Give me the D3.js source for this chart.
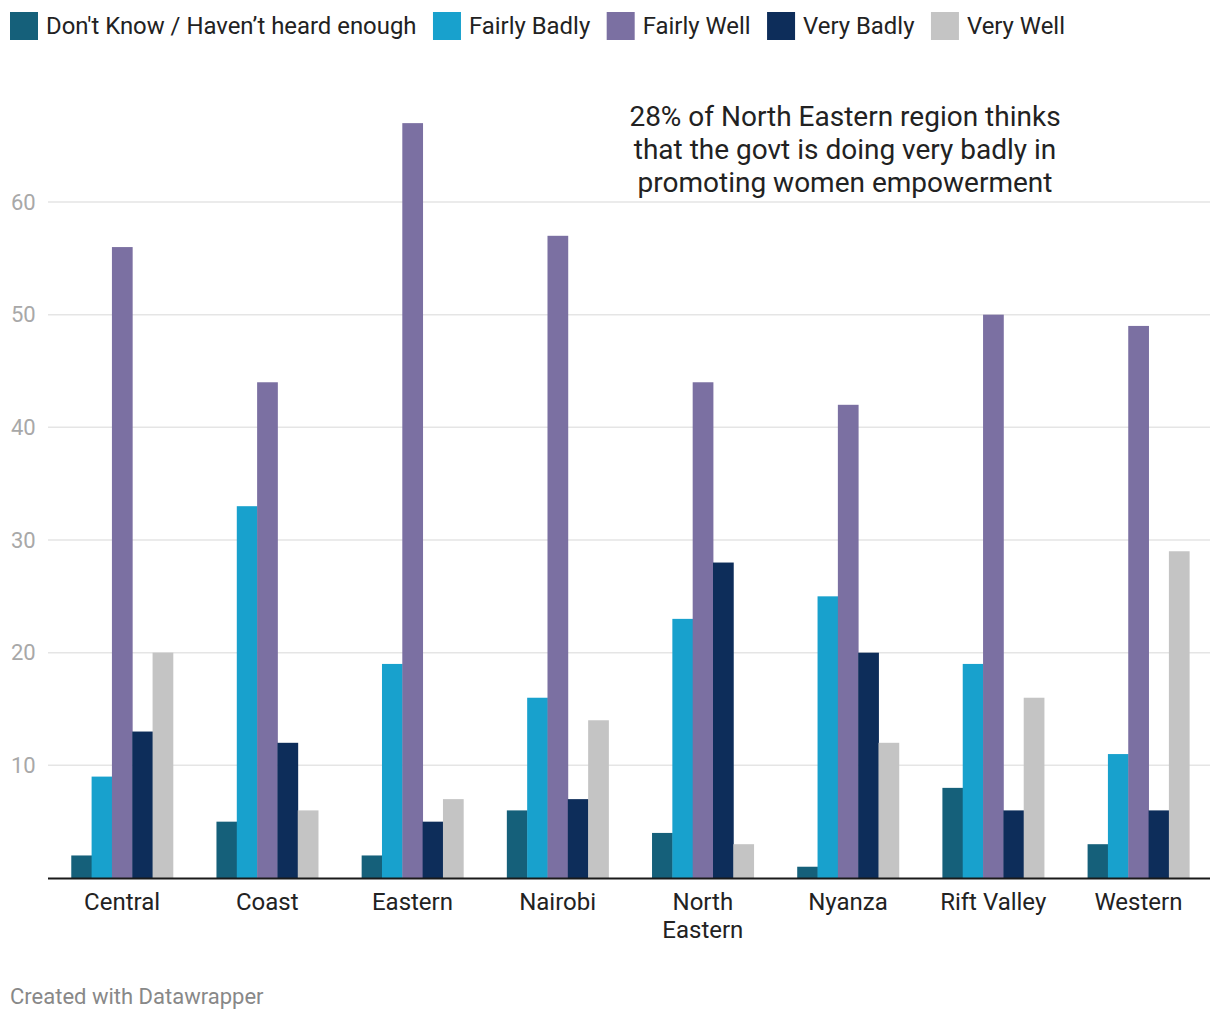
<!DOCTYPE html>
<html><head><meta charset="utf-8">
<script src="https://cdn.jsdelivr.net/npm/d3@7"></script>
<style>body{margin:0;background:#fff;font-family:Roboto,sans-serif;}</style>
</head><body>
<svg id="c" width="1220" height="1020"></svg>
<script>
const categories = ["Central","Coast","Eastern","Nairobi","North Eastern","Nyanza","Rift Valley","Western"];
const seriesNames = ["Don't Know / Haven’t heard enough","Fairly Badly","Fairly Well","Very Badly","Very Well"];
const dontKnow   = [2, 5, 2, 6, 4, 1, 8, 3];
const fairlyBadly= [9, 33, 19, 16, 23, 25, 19, 11];
const fairlyWell = [56, 44, 67, 57, 44, 42, 50, 49];
const veryBadly  = [13, 12, 5, 7, 28, 20, 6, 6];
const veryWell   = [20, 6, 7, 14, 3, 12, 16, 29];
const yTicks = [10, 20, 30, 40, 50, 60];
const colors = ["#15607a","#18a1cd","#7b70a2","#0d2d5a","#c4c4c4"];
const annotation = ["28% of North Eastern region thinks","that the govt is doing very badly in","promoting women empowerment"];

const series = [dontKnow, fairlyBadly, fairlyWell, veryBadly, veryWell];
const svg = d3.select("#c");

// legend
let lx = 10;
const leg = svg.append("g");
seriesNames.forEach((n,i)=>{
  const g = leg.append("g").attr("transform",`translate(${lx},0)`);
  g.append("rect").attr("x",0).attr("y",12).attr("width",28).attr("height",28).attr("fill",colors[i]);
  const t = g.append("text").attr("x",36).attr("y",34).attr("font-size",23.9).attr("fill","#222").text(n);
  lx += 36 + t.node().getComputedTextLength() + 16.5;
});

const x0 = d3.scaleBand().domain(categories).range([49.5,1211]).paddingInner(0.3).paddingOuter(0.15);
const x1 = d3.scaleBand().domain(d3.range(series.length)).range([0, x0.bandwidth()]);
const y = d3.scaleLinear().domain([0,60]).range([878,202]);

// grid
const grid = svg.append("g");
yTicks.forEach(t=>{
  grid.append("line").attr("x1",48).attr("x2",1210).attr("y1",y(t)).attr("y2",y(t))
    .attr("stroke","#e5e5e5").attr("stroke-width",1.5);
  grid.append("text").attr("x",11).attr("y",y(t)).attr("dy","0.35em").attr("font-size",22)
    .attr("fill","#a8a8a8").text(t);
});

// bars
categories.forEach((c,ci)=>{
  series.forEach((s,si)=>{
    svg.append("rect").attr("x",x0(c)+x1(si)).attr("y",y(s[ci]))
      .attr("width",x1.bandwidth()+0.4).attr("height",y(0)-y(s[ci])).attr("fill",colors[si]);
  });
});

// baseline
svg.append("line").attr("x1",48).attr("x2",1210).attr("y1",y(0)+0.5).attr("y2",y(0)+0.5)
  .attr("stroke","#1a1a1a").attr("stroke-width",2);

// x labels
categories.forEach(c=>{
  const words = c === "North Eastern" ? ["North","Eastern"] : [c];
  words.forEach((w,i)=>{
    svg.append("text").attr("x",x0(c)+x0.bandwidth()/2).attr("y",910+i*28)
      .attr("text-anchor","middle").attr("font-size",24).attr("fill","#222").text(w);
  });
});

// annotation
annotation.forEach((l,i)=>{
  svg.append("text").attr("x",845).attr("y",126+i*33).attr("text-anchor","middle")
    .attr("font-size",28).attr("fill","#222").text(l);
});

svg.append("text").attr("x",10).attr("y",1004).attr("font-size",22).attr("fill","#888").text("Created with Datawrapper");
</script>
</body></html>
